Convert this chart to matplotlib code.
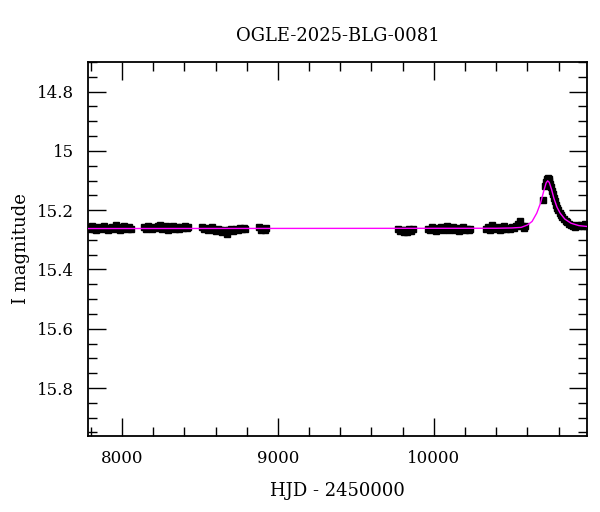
import matplotlib
matplotlib.use("Agg")
import matplotlib.pyplot as plt
from matplotlib.ticker import MultipleLocator, FixedLocator

title = "OGLE-2025-BLG-0081"
xlabel = "HJD - 2450000"
ylabel = "I magnitude"

# observation seasons (HJD-2450000, I mag)
t1 = [7785, 7798, 7810, 7822, 7835, 7848, 7860, 7873, 7885, 7898, 7910, 7923, 7936, 7948,
      7960, 7973, 7986, 7998, 8010, 8023, 8036, 8048, 8060]
m1 = [15.258, 15.265, 15.255, 15.262, 15.268, 15.257, 15.260, 15.264, 15.252, 15.259, 15.266,
      15.261, 15.256, 15.263, 15.250, 15.258, 15.267, 15.262, 15.255, 15.260, 15.264, 15.258, 15.262]
t2 = [8142, 8155, 8168, 8181, 8194, 8207, 8220, 8233, 8246, 8259, 8272, 8285, 8298, 8311,
      8324, 8337, 8350, 8363, 8376, 8389, 8402, 8415, 8425]
m2 = [15.256, 15.262, 15.252, 15.259, 15.265, 15.257, 15.261, 15.254, 15.250, 15.263, 15.258,
      15.255, 15.266, 15.260, 15.253, 15.262, 15.257, 15.264, 15.256, 15.259, 15.252, 15.261, 15.258]
t3 = [8512, 8525, 8538, 8551, 8564, 8577, 8590, 8603, 8616, 8629, 8642, 8655, 8668, 8676,
      8689, 8702, 8715, 8728, 8741, 8754, 8767, 8780, 8788]
m3 = [15.258, 15.264, 15.260, 15.267, 15.262, 15.258, 15.266, 15.270, 15.263, 15.268, 15.272,
      15.266, 15.270, 15.282, 15.268, 15.264, 15.270, 15.262, 15.266, 15.259, 15.263, 15.260, 15.262]
t4 = [8878, 8890, 8902, 8914, 8926]
m4 = [15.258, 15.266, 15.262, 15.268, 15.260]
t5 = [9770, 9782, 9794, 9806, 9818, 9830, 9842, 9854, 9864]
m5 = [15.262, 15.270, 15.266, 15.274, 15.268, 15.272, 15.265, 15.270, 15.263]
t6 = [9965, 9978, 9991, 10004, 10017, 10030, 10043, 10056, 10069, 10082, 10095, 10108, 10121,
      10134, 10147, 10160, 10173, 10186, 10199, 10212, 10225, 10234]
m6 = [15.262, 15.268, 15.258, 15.265, 15.270, 15.260, 15.256, 15.266, 15.262, 15.254, 15.268,
      15.263, 15.258, 15.266, 15.261, 15.269, 15.263, 15.258, 15.266, 15.262, 15.268, 15.264]
t7 = [10334, 10347, 10360, 10373, 10386, 10399, 10412, 10425, 10438, 10451, 10464, 10477, 10490,
      10503, 10516, 10529, 10542, 10554, 10566, 10578, 10585]
m7 = [15.262, 15.256, 15.266, 15.250, 15.260, 15.264, 15.257, 15.268, 15.262, 15.255, 15.265,
      15.259, 15.263, 15.256, 15.261, 15.254, 15.248, 15.236, 15.255, 15.260, 15.252]
t8 = [10698, 10714, 10720, 10726, 10731, 10736, 10741, 10746, 10751, 10756, 10762, 10768,
      10775, 10782, 10790, 10798, 10806, 10815, 10825, 10835, 10845, 10856, 10868, 10880, 10892,
      10905, 10918, 10930, 10943, 10955, 10968, 10978]
m8 = [15.165, 15.118, 15.104, 15.094, 15.090, 15.094, 15.102, 15.112, 15.122, 15.134,
      15.146, 15.158, 15.170, 15.182, 15.192, 15.200, 15.208, 15.215, 15.222, 15.230, 15.236,
      15.240, 15.246, 15.250, 15.252, 15.256, 15.250, 15.254, 15.250, 15.254, 15.248, 15.252]
err = 0.010

# model light curve
t_model = [7700, 10400, 10500, 10560, 10600, 10630, 10660, 10685, 10705, 10720, 10730, 10740,
           10755, 10770, 10790, 10810, 10840, 10880, 10930, 11000]
m_model = [15.262, 15.261, 15.260, 15.258, 15.250, 15.238, 15.210, 15.175, 15.135, 15.108,
           15.101, 15.106, 15.130, 15.160, 15.190, 15.210, 15.230, 15.244, 15.252, 15.256]

plt.rcParams['font.family'] = ['DejaVu Serif']
fig = plt.figure(figsize=(6.0, 5.12), dpi=100)
ax = fig.add_axes([0.1467, 0.1484, 0.8313, 0.7305])

for t, m in [(t1, m1), (t2, m2), (t3, m3), (t4, m4), (t5, m5), (t6, m6), (t7, m7), (t8, m8)]:
    ax.errorbar(t, m, yerr=err, fmt='s', color='black', ms=4.5, elinewidth=1.2, capsize=0, zorder=2)

ax.plot(t_model, m_model, color='#ff00ff', lw=1.0, zorder=3)

ax.set_xlim(7782, 10981)
ax.set_ylim(15.962, 14.70)
ax.xaxis.set_major_locator(FixedLocator([8000, 9000, 10000]))
ax.xaxis.set_minor_locator(MultipleLocator(200))
ax.yaxis.set_major_locator(FixedLocator([14.8, 15.0, 15.2, 15.4, 15.6, 15.8]))
ax.yaxis.set_minor_locator(MultipleLocator(0.05))
ax.set_yticklabels(['14.8', '15', '15.2', '15.4', '15.6', '15.8'])
ax.set_xticklabels(['8000', '9000', '10000'])
ax.tick_params(which='both', direction='in', top=True, right=True, labelsize=12, width=1.0)
ax.tick_params(which='major', length=13, pad=10)
ax.tick_params(which='minor', length=6.5)
for s in ax.spines.values():
    s.set_linewidth(1.3)

ax.set_title(title, fontsize=13, pad=15)
ax.set_xlabel(xlabel, fontsize=13, labelpad=11)
ax.set_ylabel(ylabel, fontsize=13, labelpad=5)

fig.savefig("out.png", dpi=100)
